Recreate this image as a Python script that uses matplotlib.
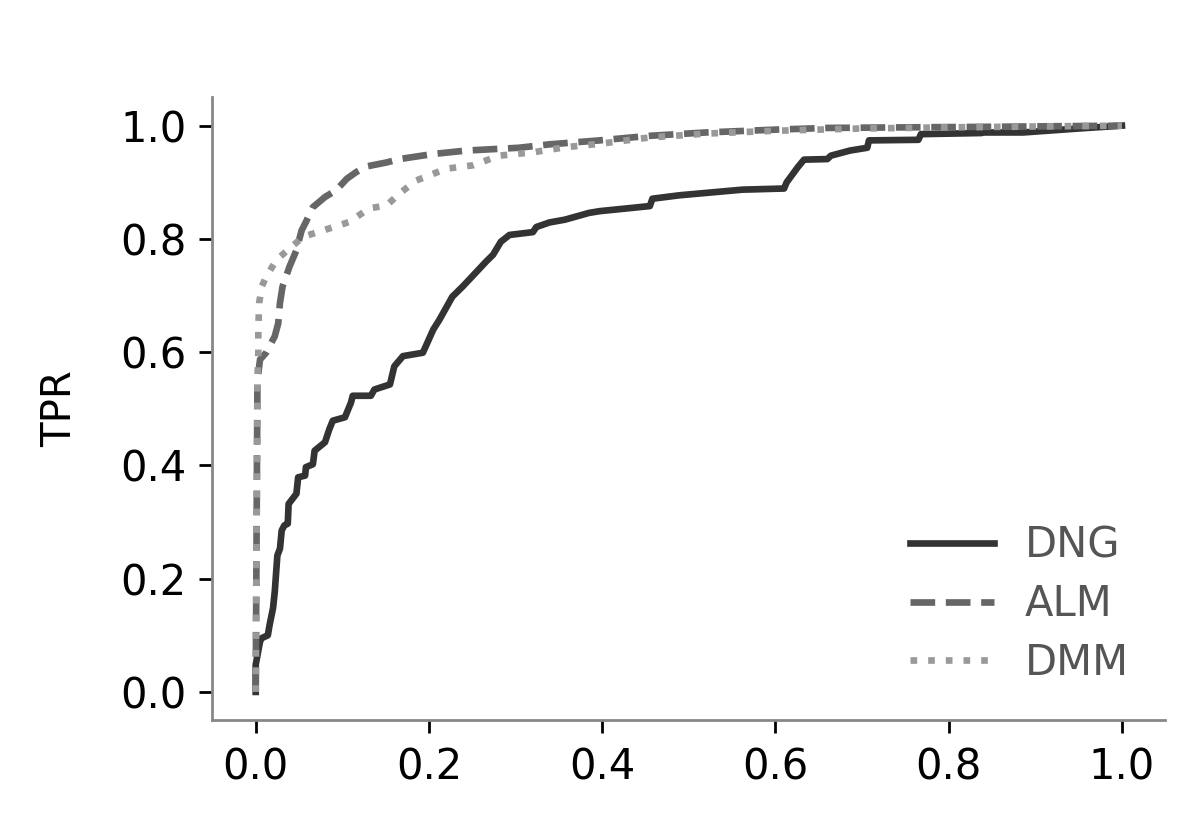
import numpy as np
import matplotlib
matplotlib.use("Agg")
import matplotlib.pyplot as plt

# ROC curves (FPR, TPR)
dng_fpr = [0.0, 0.0, 0.005, 0.007, 0.014, 0.016, 0.02, 0.022, 0.025, 0.028, 0.03, 0.033,
           0.037, 0.038, 0.047, 0.049, 0.057, 0.058, 0.066, 0.068, 0.08, 0.085, 0.089,
           0.103, 0.11, 0.112, 0.133, 0.137, 0.155, 0.16, 0.17, 0.193, 0.205, 0.212,
           0.227, 0.239, 0.255, 0.266, 0.274, 0.283, 0.293, 0.32, 0.324, 0.339, 0.357,
           0.385, 0.397, 0.455, 0.458, 0.489, 0.562, 0.61, 0.613, 0.626, 0.633, 0.66,
           0.664, 0.686, 0.706, 0.708, 0.765, 0.768, 0.838, 0.84, 0.886, 0.95, 1.0]
dng_tpr = [0.0, 0.048, 0.089, 0.095, 0.1, 0.118, 0.148, 0.177, 0.241, 0.253, 0.285, 0.294,
           0.297, 0.332, 0.35, 0.379, 0.382, 0.397, 0.402, 0.426, 0.441, 0.464, 0.479,
           0.485, 0.511, 0.523, 0.523, 0.534, 0.543, 0.575, 0.593, 0.599, 0.64, 0.657,
           0.698, 0.716, 0.742, 0.76, 0.772, 0.795, 0.807, 0.812, 0.821, 0.829, 0.834,
           0.846, 0.849, 0.858, 0.871, 0.877, 0.887, 0.889, 0.9, 0.927, 0.94, 0.941,
           0.947, 0.956, 0.961, 0.974, 0.975, 0.985, 0.987, 0.988, 0.988, 0.995, 1.0]

alm_fpr = [0.0, 0.002, 0.004, 0.005, 0.012, 0.022, 0.026, 0.028, 0.031, 0.039, 0.047,
           0.053, 0.058, 0.066, 0.08, 0.093, 0.105, 0.116, 0.128, 0.151, 0.166, 0.205,
           0.243, 0.304, 0.339, 0.397, 0.454, 0.52, 0.6, 0.66, 0.75, 0.85, 1.0]
alm_tpr = [0.0, 0.55, 0.575, 0.587, 0.599, 0.628, 0.651, 0.687, 0.716, 0.751, 0.78,
           0.815, 0.83, 0.856, 0.874, 0.886, 0.906, 0.918, 0.928, 0.935, 0.941, 0.95,
           0.956, 0.961, 0.967, 0.974, 0.982, 0.988, 0.993, 0.996, 0.997, 0.998, 1.0]

dmm_fpr = [0.0, 0.002, 0.003, 0.003, 0.004, 0.007, 0.012, 0.024, 0.039, 0.055, 0.078,
           0.108, 0.131, 0.151, 0.166, 0.185, 0.22, 0.251, 0.281, 0.32, 0.358, 0.397,
           0.454, 0.52, 0.6, 0.7, 0.8, 1.0]
dmm_tpr = [0.0, 0.55, 0.6, 0.64, 0.687, 0.716, 0.733, 0.763, 0.783, 0.804, 0.815,
           0.83, 0.854, 0.859, 0.88, 0.903, 0.924, 0.93, 0.947, 0.953, 0.962, 0.968,
           0.979, 0.986, 0.991, 0.995, 0.997, 1.0]

labels = ["DNG", "ALM", "DMM"]

fig = plt.figure(figsize=(6, 4.125), dpi=200)
ax = fig.add_axes([0.177, 0.127, 0.794, 0.755])

ax.plot(dng_fpr, dng_tpr, color="#333333", lw=2.4, ls="-", label=labels[0])
ax.plot(alm_fpr, alm_tpr, color="#666666", lw=2.4, ls="--", label=labels[1])
ax.plot(dmm_fpr, dmm_tpr, color="#999999", lw=2.4, ls=":", label=labels[2])

ax.set_xlim(-0.05, 1.05)
ax.set_ylim(-0.05, 1.05)
ax.set_xticks([0.0, 0.2, 0.4, 0.6, 0.8, 1.0])
ax.set_yticks([0.0, 0.2, 0.4, 0.6, 0.8, 1.0])
ax.set_ylabel("TPR", fontsize=14.5, labelpad=14.5)

for side in ["top", "right"]:
    ax.spines[side].set_visible(False)
for side in ["left", "bottom"]:
    ax.spines[side].set_color("#888888")
    ax.spines[side].set_linewidth(1.0)
ax.tick_params(labelsize=15, length=4.8, width=1.0, color="black", pad=4.5)

leg = ax.legend(loc="lower right", frameon=False, fontsize=15, handlelength=2.0,
                handletextpad=0.75, labelspacing=0.4, borderaxespad=0.47)
for t in leg.get_texts():
    t.set_color("#555555")

fig.savefig("out.png", dpi=200)
